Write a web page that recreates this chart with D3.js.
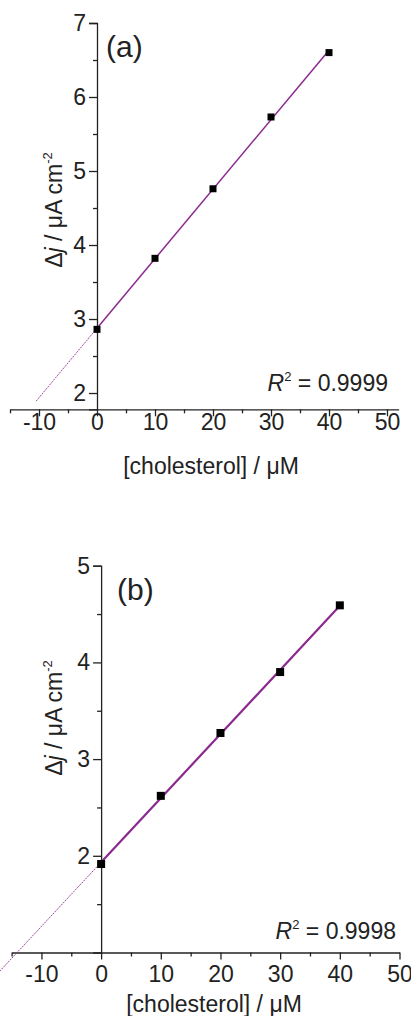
<!DOCTYPE html>
<html>
<head>
<meta charset="utf-8">
<script src="https://cdn.jsdelivr.net/npm/d3@7"></script>
<style>
  body { margin: 0; background: #fff; }
  text { font-family: "Liberation Sans", Arial, sans-serif; fill: #222; }
</style>
</head>
<body>
<div id="chart"></div>
<script>
// data
var concA = [0, 10, 20, 30, 40],
    djA = [2.86, 3.82, 4.76, 5.73, 6.60];
var concB = [0, 10, 20, 30, 40],
    djB = [1.915, 2.62, 3.27, 3.90, 4.59];
var xTicks = [-10, 0, 10, 20, 30, 40, 50],
    xMinor = [-15, -5, 5, 15, 25, 35, 45];
var yTicksA = [2, 3, 4, 5, 6, 7],
    yMinorA = [2.5, 3.5, 4.5, 5.5, 6.5];
var yTicksB = [2, 3, 4, 5],
    yMinorB = [1.5, 2.5, 3.5, 4.5];
var r2A = "0.9999", r2B = "0.9998";
var extStartA = -10.5, extStartB = -17;

var width = 411, height = 1016;
var purple = "#8a2a8e";
var fs = 23;
var fmt = function(d) { return String(d); }; // plain hyphen for negatives

var svg = d3.select("#chart").append("svg")
    .attr("width", width)
    .attr("height", height);

//panel layouts
var panels = [
  { x: concA, y: djA, xDom: [-15, 52], xRange: [10, 398.6], yDom: [1.78, 7], yRange: [409.3, 23],
    yTicks: yTicksA, yMinor: yMinorA, ext: extStartA, tag: "(a)", tagX: 106, tagY: 57, tagSize: 30,
    r2: r2A, r2X: 388, r2Y: 391, xlabY: 474, xlabX: 211, ylabY: 210, xtY: 21, lw: 1.5, ms: 7 },
  { x: concB, y: djB, xDom: [-15, 50], xRange: [11.6, 399.5], yDom: [1.0, 5], yRange: [952.5, 565.7],
    yTicks: yTicksB, yMinor: yMinorB, ext: extStartB, tag: "(b)", tagX: 117, tagY: 600, tagSize: 30,
    r2: r2B, r2X: 396, r2Y: 939, xlabY: 1012, xlabX: 214, ylabY: 718, xtY: 29, lw: 2.2, ms: 8 }
];

panels.forEach(function(p) {
  var x = d3.scaleLinear().domain(p.xDom).range(p.xRange);
  var y = d3.scaleLinear().domain(p.yDom).range(p.yRange);
  var g = svg.append("g");

  // least squares fit
  var mx = d3.mean(p.x), my = d3.mean(p.y);
  var sxy = d3.sum(p.x, function(d, i) { return (d - mx) * (p.y[i] - my); });
  var sxx = d3.sum(p.x, function(d) { return (d - mx) * (d - mx); });
  var slope = sxy / sxx, icpt = my - slope * mx;
  var fit = function(v) { return icpt + slope * v; };

  // y axis
  var yAxis = g.append("g")
      .attr("transform", "translate(" + x(0) + ",0)")
      .call(d3.axisLeft(y).tickValues(p.yTicks).tickSize(8).tickPadding(3).tickFormat(fmt));
  yAxis.select(".domain").attr("stroke", "#222").attr("stroke-width", 1.3);
  yAxis.selectAll(".tick line").attr("stroke", "#222").attr("stroke-width", 1.3);
  yAxis.selectAll("text").style("font-size", fs + "px").attr("fill", "#222");
  g.append("g").attr("transform", "translate(" + x(0) + ",0)")
    .call(d3.axisLeft(y).tickValues(p.yMinor).tickSize(4).tickFormat(""))
    .call(function(s) { s.select(".domain").remove(); s.selectAll("line").attr("stroke", "#222").attr("stroke-width", 1.3); });

  // x axis
  var xAxis = g.append("g")
      .attr("transform", "translate(0," + y(p.yDom[0]) + ")")
      .call(d3.axisBottom(x).tickValues(xTicks).tickSize(7).tickSizeOuter(0).tickFormat(fmt));
  xAxis.select(".domain").attr("stroke", "#222").attr("stroke-width", 1.3);
  xAxis.selectAll(".tick line").attr("stroke", "#222").attr("stroke-width", 1.3);
  xAxis.selectAll("text").style("font-size", fs + "px").attr("fill", "#222")
    .attr("y", p.xtY).attr("dy", 0);
  g.append("g").attr("transform", "translate(0," + y(p.yDom[0]) + ")")
    .call(d3.axisBottom(x).tickValues(xMinor).tickSize(4).tickFormat(""))
    .call(function(s) { s.select(".domain").remove(); s.selectAll("line").attr("stroke", "#222").attr("stroke-width", 1.3); });

  // extension of the fit (thin dotted)
  g.append("line")
    .attr("x1", x(p.ext)).attr("y1", y(fit(p.ext)))
    .attr("x2", x(0)).attr("y2", y(fit(0)))
    .attr("stroke", purple).attr("stroke-width", 1)
    .attr("stroke-dasharray", "2,1").attr("opacity", 0.85);

  // fit line
  var x0 = d3.min(p.x), x1 = d3.max(p.x);
  g.append("line")
    .attr("x1", x(x0)).attr("y1", y(fit(x0)))
    .attr("x2", x(x1)).attr("y2", y(fit(x1)))
    .attr("stroke", purple).attr("stroke-width", p.lw);

  // markers
  g.selectAll("rect.pt").data(p.x).enter().append("rect")
    .attr("class", "pt")
    .attr("x", function(d) { return x(d) - p.ms / 2; })
    .attr("y", function(d, i) { return y(p.y[i]) - p.ms / 2; })
    .attr("width", p.ms).attr("height", p.ms)
    .attr("fill", "#000");

  // panel tag
  g.append("text").attr("x", p.tagX).attr("y", p.tagY)
    .style("font-size", p.tagSize + "px").text(p.tag);

  // R^2
  var r = g.append("text").attr("x", p.r2X).attr("y", p.r2Y)
    .attr("text-anchor", "end").style("font-size", fs + "px");
  r.append("tspan").style("font-style", "italic").text("R");
  r.append("tspan").attr("dy", -10).style("font-size", "13px").text("2");
  r.append("tspan").attr("dy", 10).text(" = " + p.r2);

  // x label
  g.append("text").attr("x", p.xlabX).attr("y", p.xlabY)
    .attr("text-anchor", "middle").style("font-size", fs + "px")
    .text("[cholesterol] / \u03bcM");

  // y label
  var yl = g.append("text")
    .attr("transform", "translate(62," + p.ylabY + ") rotate(-90)")
    .attr("text-anchor", "middle").style("font-size", fs + "px");
  yl.append("tspan").text("\u0394");
  yl.append("tspan").style("font-style", "italic").text("j");
  yl.append("tspan").text(" / \u03bcA cm");
  yl.append("tspan").attr("dy", -10).style("font-size", "13px").text("-2");
});
</script>
</body>
</html>
